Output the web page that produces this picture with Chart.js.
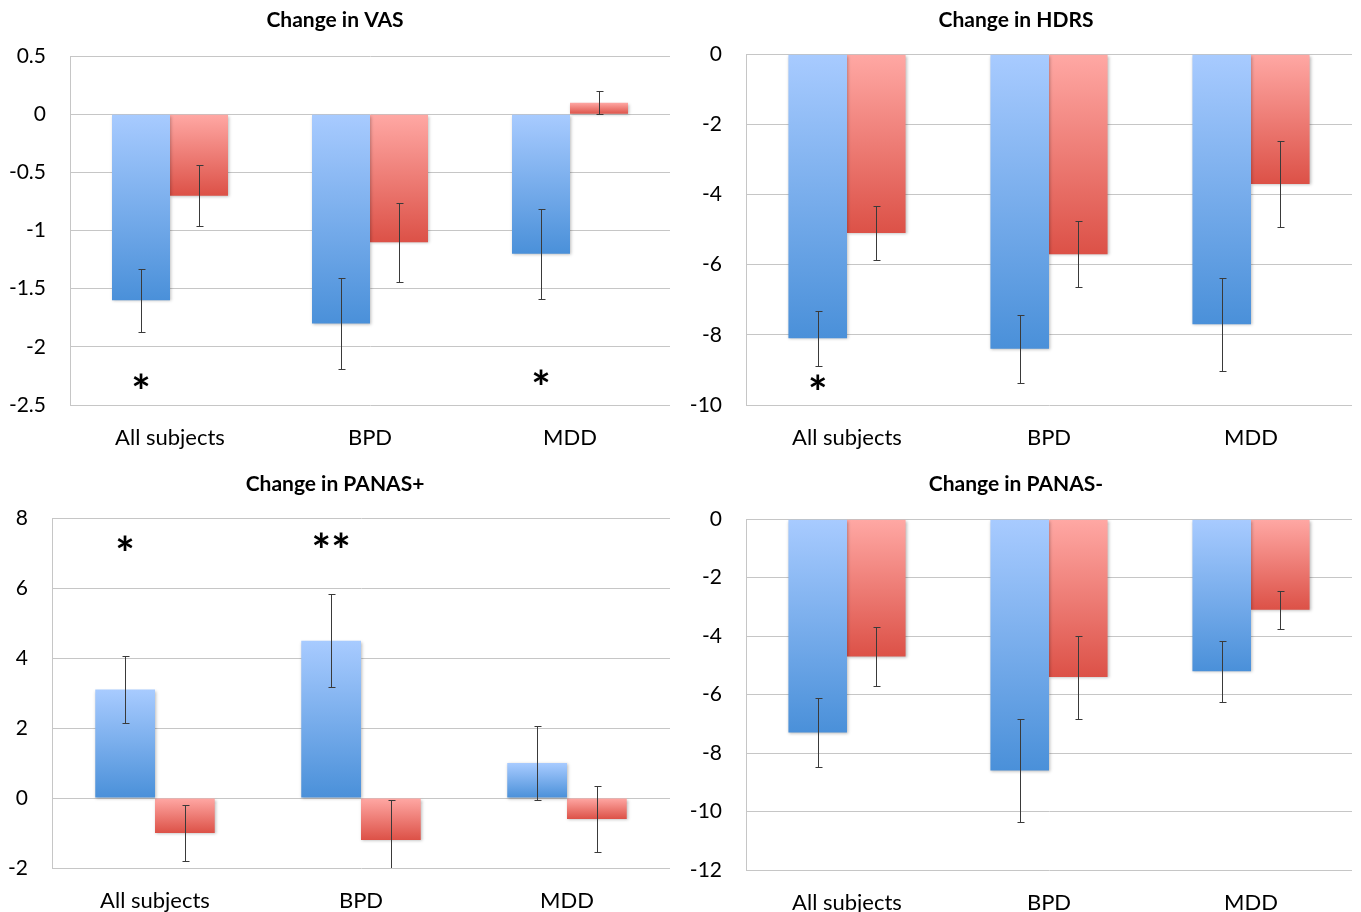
<!DOCTYPE html>
<html>
<head>
<meta charset="utf-8">
<script src="https://cdn.jsdelivr.net/npm/chart.js@4/dist/chart.umd.min.js"></script>
<style>
  body { margin: 0; background: #fff; }
  .panel { position: absolute; }
</style>
</head>
<body>
<div class="panel" style="left:0;top:0;width:680px;height:460px"><canvas id="vas"></canvas></div>
<div class="panel" style="left:680px;top:0;width:681px;height:460px"><canvas id="hdrs"></canvas></div>
<div class="panel" style="left:0;top:460px;width:680px;height:452px"><canvas id="panasPos"></canvas></div>
<div class="panel" style="left:680px;top:460px;width:681px;height:452px"><canvas id="panasNeg"></canvas></div>
<script>
// groups on the x axis
const groups = ['All subjects', 'BPD', 'MDD'];

// Change in VAS
const vasBlue = [-1.6, -1.8, -1.2];
const vasBlueErr = [0.27, 0.39, 0.39];
const vasRed = [-0.7, -1.1, 0.1];
const vasRedErr = [0.26, 0.34, 0.1];
const vasTicks = [0.5, 0, -0.5, -1, -1.5, -2, -2.5];
const vasStars = [{ group: 0, y: -2.3, text: '*' }, { group: 2, y: -2.27, text: '*' }];

// Change in HDRS
const hdrsBlue = [-8.1, -8.4, -7.7];
const hdrsBlueErr = [0.78, 0.96, 1.33];
const hdrsRed = [-5.1, -5.7, -3.7];
const hdrsRedErr = [0.76, 0.94, 1.23];
const hdrsTicks = [0, -2, -4, -6, -8, -10];
const hdrsStars = [{ group: 0, y: -9.37, text: '*' }];

// Change in PANAS+
const posBlue = [3.1, 4.5, 1.0];
const posBlueErr = [0.95, 1.32, 1.06];
const posRed = [-1.0, -1.2, -0.6];
const posRedErr = [0.81, 1.13, 0.94];
const posTicks = [8, 6, 4, 2, 0, -2];
const posStars = [{ group: 0, y: 7.26, text: '*' }, { group: 1, y: 7.36, text: '**' }];

// Change in PANAS-
const negBlue = [-7.3, -8.6, -5.2];
const negBlueErr = [1.19, 1.75, 1.05];
const negRed = [-4.7, -5.4, -3.1];
const negRedErr = [1.01, 1.42, 0.65];
const negTicks = [0, -2, -4, -6, -8, -10, -12];
const negStars = [];

const FONT = 'Lato, "Open Sans", sans-serif';
const blueShades = ['#a8cbff', '#4a90d9'];
const redShades = ['#ffa8a4', '#dc5147'];

// each bar gets its own light-to-dark gradient, top to bottom
function barFill(shades) {
  return function (c) {
    const chart = c.chart;
    const y = chart.scales.y;
    if (!chart.chartArea || !y || c.parsed == null) return shades[1];
    const p0 = y.getPixelForValue(0);
    const p1 = y.getPixelForValue(c.parsed.y);
    const top = Math.min(p0, p1), bot = Math.max(p0, p1);
    if (bot - top < 1) return shades[1];
    const g = chart.ctx.createLinearGradient(0, top, 0, bot);
    g.addColorStop(0, shades[0]);
    g.addColorStop(1, shades[1]);
    return g;
  };
}

const barShadow = {
  id: 'barShadow',
  beforeDatasetsDraw(chart) {
    const ctx = chart.ctx;
    ctx.save();
    ctx.shadowColor = 'rgba(0,0,0,0.28)';
    ctx.shadowBlur = 3;
    ctx.shadowOffsetX = 1;
    ctx.shadowOffsetY = 1;
  },
  afterDatasetsDraw(chart) {
    chart.ctx.restore();
  }
};

const errorBars = {
  id: 'errorBars',
  afterDatasetsDraw(chart) {
    const ctx = chart.ctx, y = chart.scales.y, a = chart.chartArea;
    ctx.save();
    ctx.beginPath();
    ctx.rect(a.left, a.top - 2, a.right - a.left, a.bottom - a.top + 2);
    ctx.clip();
    ctx.strokeStyle = '#3a3a3a';
    ctx.lineWidth = 1;
    chart.data.datasets.forEach((ds, di) => {
      const meta = chart.getDatasetMeta(di);
      meta.data.forEach((bar, i) => {
        const v = ds.data[i], e = ds.errors[i];
        const x = Math.round(bar.x) + 0.5;
        const t = Math.round(y.getPixelForValue(v + e)) + 0.5;
        const b = Math.round(y.getPixelForValue(v - e)) + 0.5;
        ctx.beginPath();
        ctx.moveTo(x, t); ctx.lineTo(x, b);
        ctx.moveTo(x - 3, t); ctx.lineTo(x + 4, t);
        ctx.moveTo(x - 3, b); ctx.lineTo(x + 4, b);
        ctx.stroke();
      });
    });
    ctx.restore();
  }
};

const stars = {
  id: 'stars',
  afterDraw(chart, args, opts) {
    const ctx = chart.ctx, y = chart.scales.y;
    const meta = chart.getDatasetMeta(0);
    ctx.save();
    ctx.fillStyle = '#000';
    ctx.font = 'bold 46px ' + FONT;
    ctx.textAlign = 'center';
    ctx.textBaseline = 'alphabetic';
    (opts.marks || []).forEach(m => {
      const x = meta.data[m.group].x;
      ctx.fillText(m.text, x, y.getPixelForValue(m.y) + 26);
    });
    ctx.restore();
  }
};

function makeChart(id, title, blue, blueErr, red, redErr, ticks, marks, box) {
  const lo = Math.min(...ticks), hi = Math.max(...ticks);
  new Chart(document.getElementById(id), {
    type: 'bar',
    data: {
      labels: groups,
      datasets: [
        { data: blue, errors: blueErr, backgroundColor: barFill(blueShades) },
        { data: red, errors: redErr, backgroundColor: barFill(redShades) }
      ]
    },
    options: {
      responsive: true,
      maintainAspectRatio: false,
      animation: false,
      events: [],
      datasets: { bar: { categoryPercentage: 0.58, barPercentage: 1.0, borderWidth: 0 } },
      layout: { padding: { left: 0, right: box.right, top: 0, bottom: 0 } },
      plugins: {
        legend: { display: false },
        tooltip: { enabled: false },
        title: {
          display: true,
          text: title,
          color: '#000',
          font: { family: FONT, size: 21, weight: 'bold' },
          padding: { top: box.titleTop, bottom: box.titleBottom }
        },
        stars: { marks: marks }
      },
      scales: {
        x: {
          grid: { display: false, drawTicks: false },
          border: { display: false },
          ticks: { color: '#000', font: { family: FONT, size: 22 }, padding: box.xPad, maxRotation: 0 },
          afterFit(s) { s.height = box.xHeight; }
        },
        y: {
          min: lo,
          max: hi,
          afterBuildTicks(s) { s.ticks = ticks.map(v => ({ value: v })); },
          grid: { color: '#c6c6c6', lineWidth: 1, drawTicks: false },
          border: { color: '#c6c6c6' },
          ticks: {
            color: '#000',
            font: { family: FONT, size: 21 },
            padding: 24,
            callback: v => String(v)
          },
          afterFit(s) { s.width = box.yWidth; }
        }
      }
    },
    plugins: [barShadow, errorBars, stars]
  });
}

makeChart('vas', 'Change in VAS', vasBlue, vasBlueErr, vasRed, vasRedErr, vasTicks, vasStars,
  { right: 10, titleTop: 8, titleBottom: 23, xHeight: 55, xPad: 20, yWidth: 70 });
makeChart('hdrs', 'Change in HDRS', hdrsBlue, hdrsBlueErr, hdrsRed, hdrsRedErr, hdrsTicks, hdrsStars,
  { right: 9, titleTop: 8, titleBottom: 21, xHeight: 55, xPad: 20, yWidth: 66 });
makeChart('panasPos', 'Change in PANAS+', posBlue, posBlueErr, posRed, posRedErr, posTicks, posStars,
  { right: 10, titleTop: 12, titleBottom: 21, xHeight: 44, xPad: 20, yWidth: 52 });
makeChart('panasNeg', 'Change in PANAS-', negBlue, negBlueErr, negRed, negRedErr, negTicks, negStars,
  { right: 9, titleTop: 12, titleBottom: 22, xHeight: 42, xPad: 20, yWidth: 66 });
</script>
</body>
</html>
